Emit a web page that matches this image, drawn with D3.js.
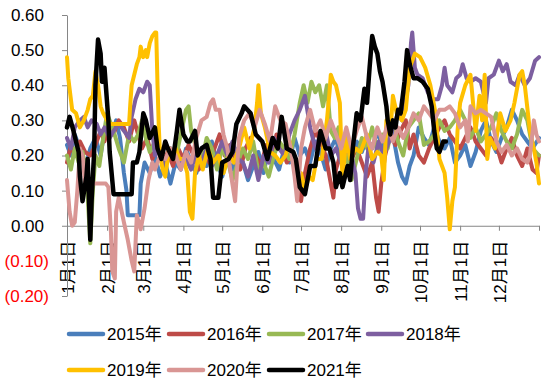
<!DOCTYPE html>
<html><head><meta charset="utf-8">
<script src="https://cdn.jsdelivr.net/npm/d3@7"></script>
<style>
html,body{margin:0;padding:0;background:#fff;}
text{font-family:"Liberation Sans","Noto Sans CJK SC",sans-serif;}
</style></head>
<body><svg id="c" width="550" height="383"></svg>
<script>
const years = ["2015年","2016年","2017年","2018年","2019年","2020年","2021年"];
const colors = ["#4A7EBB","#BE4B48","#98B954","#7D5FA0","#FFC000","#D99694","#000000"];
const xTickLabels = ["1月1日","2月1日","3月1日","4月1日","5月1日","6月1日","7月1日","8月1日","9月1日","10月1日","11月1日","12月1日",""];
const yTicks = [-0.2,-0.1,0,0.1,0.2,0.3,0.4,0.5,0.6];
const yTickLabels = ["(0.20)","(0.10)","0.00","0.10","0.20","0.30","0.40","0.50","0.60"];

// [day of year, value]
const s2015 = [[0,0.23],[3,0.20],[6,0.26],[10,0.22],[14,0.17],[18,0.22],[22,0.25],[26,0.20],[29,0.27],[32,0.30],[35,0.26],[38,0.30],[41,0.25],[44,0.15],[46,0.10],[47,0.03],[56,0.03],[57,0.12],[60,0.18],[64,0.15],[68,0.20],[72,0.14],[76,0.18],[80,0.12],[84,0.18],[88,0.16],[92,0.22],[96,0.18],[100,0.15],[104,0.20],[108,0.17],[112,0.24],[116,0.18],[120,0.14],[124,0.19],[128,0.16],[132,0.22],[136,0.18],[140,0.13],[144,0.17],[148,0.21],[152,0.15],[156,0.22],[160,0.19],[164,0.16],[168,0.22],[172,0.18],[176,0.25],[180,0.20],[184,0.22],[188,0.18],[192,0.24],[196,0.21],[200,0.16],[204,0.22],[208,0.25],[212,0.18],[216,0.21],[220,0.19],[224,0.24],[228,0.21],[232,0.25],[236,0.22],[240,0.27],[244,0.22],[248,0.29],[252,0.26],[256,0.18],[259,0.14],[262,0.12],[265,0.17],[268,0.20],[272,0.28],[276,0.25],[280,0.23],[284,0.28],[288,0.24],[292,0.22],[296,0.25],[300,0.18],[304,0.20],[308,0.23],[312,0.17],[316,0.21],[320,0.27],[324,0.30],[328,0.24],[332,0.21],[336,0.25],[340,0.28],[344,0.33],[348,0.30],[352,0.26],[356,0.24],[360,0.22],[365,0.25]];
const s2016 = [[0,0.18],[3,0.23],[6,0.20],[10,0.24],[14,0.21],[18,0.20],[22,0.23],[26,0.27],[29,0.24],[32,0.28],[36,0.26],[40,0.30],[44,0.28],[48,0.24],[52,0.30],[55,0.26],[58,0.22],[62,0.25],[66,0.19],[70,0.23],[74,0.18],[78,0.21],[82,0.17],[86,0.22],[90,0.19],[94,0.23],[98,0.20],[102,0.16],[106,0.21],[110,0.18],[114,0.22],[118,0.26],[122,0.20],[126,0.23],[130,0.19],[134,0.16],[138,0.22],[142,0.25],[146,0.20],[150,0.17],[154,0.23],[158,0.19],[162,0.26],[166,0.22],[170,0.18],[174,0.20],[178,0.12],[181,0.07],[184,0.15],[188,0.22],[192,0.27],[196,0.24],[200,0.20],[204,0.12],[206,0.08],[208,0.16],[212,0.21],[216,0.24],[220,0.19],[224,0.22],[228,0.18],[232,0.14],[236,0.18],[239,0.08],[241,0.04],[243,0.12],[246,0.20],[250,0.26],[254,0.23],[258,0.27],[262,0.30],[265,0.22],[268,0.26],[272,0.20],[276,0.18],[280,0.22],[284,0.25],[288,0.28],[292,0.30],[296,0.26],[300,0.24],[304,0.22],[308,0.25],[312,0.28],[316,0.24],[320,0.22],[324,0.20],[328,0.25],[332,0.23],[336,0.18],[340,0.22],[344,0.25],[348,0.20],[352,0.17],[356,0.22],[360,0.16],[363,0.15],[365,0.20]];
const s2017 = [[0,0.20],[3,0.16],[6,0.22],[9,0.18],[12,0.21],[15,0.15],[18,-0.05],[20,0.10],[22,0.20],[25,0.17],[28,0.25],[31,0.32],[33,0.30],[36,0.27],[40,0.22],[44,0.18],[48,0.26],[52,0.24],[55,0.26],[58,0.30],[61,0.25],[64,0.21],[68,0.24],[72,0.20],[76,0.18],[80,0.22],[84,0.19],[88,0.26],[92,0.33],[94,0.34],[96,0.27],[100,0.22],[104,0.18],[108,0.25],[112,0.22],[116,0.16],[120,0.22],[124,0.19],[128,0.13],[132,0.18],[136,0.22],[140,0.19],[144,0.24],[148,0.15],[152,0.18],[156,0.14],[160,0.20],[164,0.24],[168,0.22],[172,0.19],[176,0.26],[180,0.35],[183,0.40],[186,0.35],[189,0.41],[192,0.38],[195,0.40],[198,0.34],[201,0.40],[204,0.27],[207,0.25],[210,0.28],[213,0.18],[216,0.20],[220,0.13],[224,0.19],[228,0.25],[232,0.22],[236,0.28],[240,0.21],[244,0.26],[248,0.22],[252,0.30],[256,0.24],[260,0.20],[264,0.28],[268,0.30],[272,0.32],[276,0.23],[280,0.24],[284,0.26],[288,0.30],[292,0.27],[296,0.28],[300,0.30],[304,0.33],[308,0.30],[312,0.25],[316,0.28],[320,0.24],[324,0.26],[328,0.28],[332,0.32],[336,0.27],[340,0.24],[344,0.22],[348,0.26],[352,0.33],[356,0.30],[360,0.22],[365,0.20]];
const s2018 = [[0,0.25],[3,0.22],[6,0.28],[10,0.30],[13,0.31],[16,0.28],[19,0.30],[23,0.29],[26,0.26],[29,0.28],[33,0.25],[36,0.27],[40,0.29],[44,0.27],[48,0.25],[50,0.31],[53,0.36],[56,0.39],[59,0.38],[62,0.41],[64,0.40],[66,0.27],[68,0.20],[72,0.22],[76,0.17],[80,0.22],[84,0.20],[88,0.17],[92,0.19],[96,0.16],[100,0.21],[104,0.18],[108,0.22],[112,0.17],[116,0.20],[120,0.24],[124,0.20],[128,0.24],[132,0.19],[136,0.18],[140,0.14],[144,0.20],[148,0.13],[152,0.20],[156,0.18],[160,0.25],[164,0.22],[168,0.20],[172,0.26],[176,0.30],[180,0.33],[184,0.37],[188,0.28],[192,0.22],[196,0.26],[200,0.27],[204,0.20],[208,0.22],[212,0.18],[216,0.22],[220,0.20],[223,0.15],[225,0.05],[227,0.02],[229,0.02],[231,0.15],[233,0.22],[237,0.18],[241,0.24],[245,0.20],[249,0.24],[252,0.28],[256,0.32],[259,0.30],[262,0.36],[264,0.40],[266,0.52],[267,0.55],[269,0.45],[271,0.43],[275,0.42],[279,0.38],[283,0.36],[287,0.36],[290,0.40],[292,0.45],[294,0.40],[298,0.38],[301,0.42],[304,0.43],[306,0.46],[309,0.42],[312,0.41],[316,0.42],[320,0.41],[322,0.38],[324,0.35],[326,0.42],[330,0.43],[334,0.47],[337,0.44],[340,0.46],[343,0.41],[347,0.40],[350,0.43],[354,0.40],[358,0.42],[362,0.47],[365,0.48]];
const s2019 = [[0,0.48],[1,0.42],[4,0.33],[7,0.32],[10,0.28],[13,0.30],[16,0.33],[18,0.36],[20,0.37],[22,0.44],[24,0.40],[26,0.34],[28,0.32],[31,0.30],[33,0.29],[48,0.29],[49,0.35],[50,0.40],[52,0.43],[54,0.46],[56,0.48],[57,0.51],[59,0.48],[61,0.50],[62,0.48],[64,0.52],[66,0.54],[68,0.55],[69,0.55],[70,0.40],[71,0.28],[72,0.20],[74,0.16],[76,0.14],[79,0.22],[81,0.20],[84,0.22],[87,0.19],[90,0.19],[93,0.15],[95,0.04],[97,0.02],[99,0.15],[102,0.20],[105,0.16],[109,0.22],[113,0.18],[117,0.20],[121,0.15],[125,0.20],[129,0.18],[133,0.22],[137,0.28],[141,0.22],[145,0.28],[147,0.35],[148,0.40],[150,0.32],[153,0.28],[157,0.21],[161,0.20],[165,0.18],[169,0.20],[172,0.24],[175,0.18],[178,0.12],[181,0.15],[184,0.10],[187,0.14],[190,0.13],[193,0.19],[197,0.19],[201,0.30],[203,0.38],[204,0.43],[206,0.41],[208,0.40],[211,0.35],[213,0.13],[216,0.25],[219,0.19],[223,0.22],[227,0.21],[232,0.26],[236,0.19],[240,0.21],[243,0.20],[245,0.13],[247,0.30],[250,0.26],[252,0.37],[255,0.32],[259,0.30],[262,0.33],[265,0.45],[269,0.49],[273,0.48],[277,0.45],[281,0.40],[285,0.32],[288,0.19],[292,0.15],[294,0.08],[296,-0.01],[298,0.07],[300,0.11],[302,0.27],[304,0.35],[308,0.40],[312,0.43],[314,0.35],[316,0.27],[319,0.37],[321,0.30],[323,0.43],[325,0.19],[327,0.25],[331,0.22],[335,0.32],[339,0.27],[343,0.30],[346,0.35],[350,0.43],[352,0.44],[354,0.40],[358,0.27],[361,0.22],[363,0.18],[365,0.12]];
const s2020 = [[0,0.13],[2,0.04],[4,0.00],[6,0.01],[8,0.10],[10,0.22],[12,0.20],[14,0.12],[18,0.12],[30,0.12],[32,0.11],[34,-0.02],[35,-0.13],[37,-0.15],[38,0.04],[40,0.08],[44,0.01],[47,-0.04],[50,-0.10],[52,-0.13],[54,0.03],[57,-0.01],[60,0.05],[63,0.13],[66,0.18],[68,0.16],[72,0.20],[76,0.19],[80,0.22],[84,0.20],[88,0.16],[92,0.21],[96,0.18],[100,0.25],[104,0.30],[108,0.31],[111,0.35],[113,0.36],[115,0.33],[118,0.33],[121,0.26],[124,0.22],[127,0.14],[130,0.07],[133,0.25],[137,0.30],[141,0.32],[145,0.28],[149,0.33],[153,0.29],[157,0.24],[161,0.34],[165,0.30],[169,0.29],[173,0.22],[176,0.14],[178,0.07],[181,0.22],[184,0.28],[188,0.33],[192,0.27],[196,0.30],[200,0.25],[204,0.30],[208,0.26],[212,0.22],[216,0.28],[220,0.22],[224,0.27],[228,0.31],[232,0.25],[236,0.22],[240,0.28],[244,0.24],[248,0.29],[252,0.24],[256,0.28],[260,0.25],[264,0.28],[268,0.32],[272,0.30],[276,0.34],[280,0.32],[284,0.30],[288,0.33],[292,0.33],[296,0.34],[300,0.32],[304,0.28],[308,0.30],[310,0.24],[312,0.34],[316,0.32],[320,0.33],[324,0.32],[328,0.31],[332,0.24],[336,0.21],[340,0.23],[344,0.20],[348,0.22],[352,0.19],[356,0.18],[358,0.20],[361,0.30],[363,0.26],[365,0.24]];
const s2021 = [[0,0.28],[2,0.31],[5,0.27],[9,0.21],[10,0.14],[12,0.07],[15,0.14],[16,0.19],[18,-0.04],[19,0.07],[21,0.21],[22,0.40],[24,0.53],[26,0.49],[27,0.41],[29,0.45],[30,0.40],[32,0.30],[33,0.21],[36,0.09],[50,0.09],[51,0.18],[54,0.18],[56,0.21],[59,0.32],[61,0.30],[64,0.25],[68,0.28],[70,0.22],[73,0.19],[76,0.24],[78,0.22],[82,0.19],[85,0.27],[87,0.33],[90,0.26],[93,0.24],[95,0.24],[99,0.27],[101,0.20],[104,0.22],[108,0.23],[111,0.19],[113,0.08],[117,0.08],[120,0.18],[125,0.19],[128,0.21],[131,0.29],[135,0.32],[137,0.34],[142,0.32],[146,0.26],[151,0.24],[155,0.19],[159,0.25],[163,0.22],[166,0.31],[170,0.22],[175,0.21],[177,0.19],[180,0.11],[184,0.09],[188,0.17],[192,0.17],[196,0.27],[200,0.22],[203,0.22],[206,0.18],[208,0.11],[211,0.15],[213,0.11],[217,0.17],[219,0.13],[221,0.22],[224,0.32],[227,0.30],[230,0.39],[232,0.35],[234,0.45],[236,0.54],[238,0.51],[240,0.49],[242,0.44],[244,0.41],[247,0.34],[248,0.30],[250,0.26],[252,0.30],[254,0.28],[256,0.33],[258,0.32],[261,0.41],[263,0.50],[265,0.46],[268,0.42],[271,0.42],[275,0.41],[279,0.39],[282,0.34],[284,0.27],[286,0.22],[288,0.21],[291,0.24],[293,0.24]];
const seriesData = [s2015,s2016,s2017,s2018,s2019,s2020,s2021];

const svg = d3.select("#c");
const start = new Date(2021,0,1);
const dayDate = d => new Date(2021,0,1+d);
const x = d3.scaleTime().domain([start,new Date(2022,0,1)]).range([67,539]);
const y = d3.scaleLinear().domain([-0.2,0.6]).range([296,15]);
const axisColor = "#868686";
const fs = 17;

// x axis at zero
const monthTicks = d3.range(13).map(m => new Date(2021,m,1));
const gx = svg.append("g").attr("transform",`translate(0,${y(0)})`)
  .call(d3.axisBottom(x).tickValues(monthTicks).tickSize(5).tickSizeOuter(0).tickFormat(()=>""));
gx.select(".domain").attr("stroke",axisColor);
gx.selectAll(".tick line").attr("stroke",axisColor);
gx.selectAll(".tick").each(function(d,i){
  d3.select(this).append("text")
    .attr("transform","translate(0,15) rotate(-90)")
    .attr("text-anchor","end").attr("dy","0.36em")
    .attr("fill","#000").attr("font-size",fs)
    .text(xTickLabels[i]);
});

// y axis
const gy = svg.append("g").attr("transform","translate(67,0)")
  .call(d3.axisLeft(y).tickValues(yTicks).tickSize(5).tickSizeOuter(0).tickFormat((d,i)=>yTickLabels[i]));
gy.select(".domain").attr("stroke",axisColor);
gy.selectAll(".tick line").attr("stroke",axisColor);
gy.selectAll(".tick text").attr("font-size",fs)
  .attr("font-family",'"Liberation Sans",sans-serif')
  .attr("x",(d)=> d<0 ? -18 : -23)
  .attr("fill",(d)=> d<0 ? "#FF0000" : "#000");

// lines
const line = d3.line().x(d=>x(dayDate(d[0]))).y(d=>y(d[1]));
seriesData.forEach((s,i)=>{
  svg.append("path").datum(s).attr("d",line)
    .attr("fill","none").attr("stroke",colors[i])
    .attr("stroke-width", i===6 ? 4.5 : 4)
    .attr("stroke-linejoin","round").attr("stroke-linecap","round");
});

// legend
const legendPos = [[67,334],[167,334],[267,334],[366,334],[67,370],[167,370],[267,370]];
years.forEach((yr,i)=>{
  const [lx,ly] = legendPos[i];
  const g = svg.append("g");
  g.append("line").attr("x1",lx+2).attr("x2",lx+36).attr("y1",ly).attr("y2",ly)
    .attr("stroke",colors[i]).attr("stroke-width",4.5).attr("stroke-linecap","round");
  g.append("text").attr("x",lx+40).attr("y",ly).attr("dy","0.36em")
    .attr("font-size",fs).attr("fill","#000").text(yr);
});
</script></body></html>
